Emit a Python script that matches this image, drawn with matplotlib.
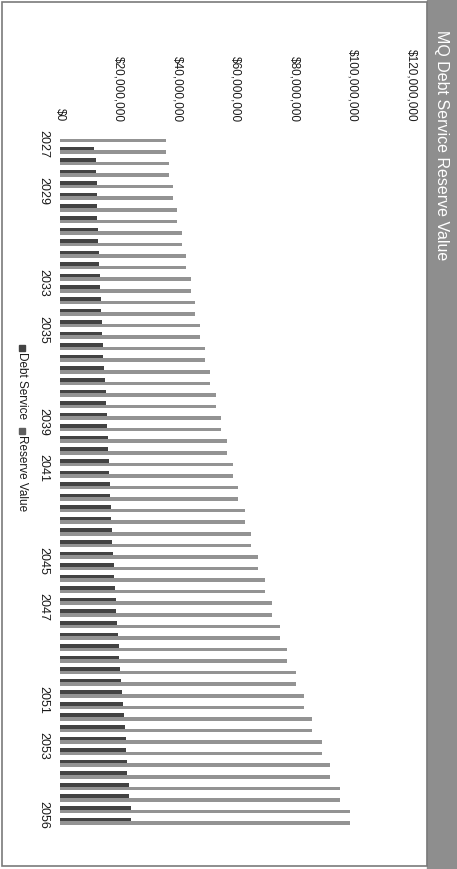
import matplotlib
matplotlib.use("Agg")
import matplotlib.pyplot as plt
from matplotlib.patches import Rectangle
import numpy as np

plt.rcParams['font.family'] = ['Liberation Sans', 'DejaVu Sans']

# ---- data -------------------------------------------------------------
title = "MQ Debt Service Reserve Value"
series_names = ["Debt Service", "Reserve Value"]

# two payment periods per year, 2027 through 2056
period_years = [2027 + i // 2 for i in range(60)]
label_years = [2027, 2029, 2033, 2035, 2039, 2041, 2045, 2047, 2051, 2053, 2056]
value_ticks = [0, 20e6, 40e6, 60e6, 80e6, 100e6, 120e6]

# $ millions per period
debt_service_m = [
    0.0, 11.6, 12.2, 12.2, 12.5, 12.6, 12.7, 12.7, 13.0, 13.1,
    13.3, 13.3, 13.7, 13.7, 13.9, 14.0, 14.3, 14.4, 14.8, 14.8,
    15.1, 15.4, 15.6, 15.6, 16.0, 16.0, 16.3, 16.3, 16.7, 16.7,
    17.0, 17.1, 17.3, 17.4, 17.8, 17.9, 18.1, 18.3, 18.6, 18.8,
    19.1, 19.3, 19.6, 19.8, 20.1, 20.3, 20.6, 20.8, 21.1, 21.4,
    21.9, 22.1, 22.6, 22.6, 23.0, 23.0, 23.6, 23.6, 24.2, 24.2,
]
reserve_value_m = [
    36.2, 36.2, 37.4, 37.4, 38.7, 38.7, 40.1, 40.1, 41.6, 41.6,
    43.1, 43.1, 44.7, 44.7, 46.3, 46.3, 47.9, 47.9, 49.5, 49.5,
    51.3, 51.3, 53.2, 53.2, 55.0, 55.0, 57.0, 57.0, 59.0, 59.0,
    61.0, 61.0, 63.2, 63.2, 65.3, 65.3, 67.8, 67.8, 70.1, 70.1,
    72.6, 72.6, 75.2, 75.2, 77.7, 77.7, 80.7, 80.7, 83.4, 83.4,
    86.3, 86.3, 89.5, 89.5, 92.3, 92.3, 95.7, 95.7, 99.1, 99.1,
]

# ---- styling ------------------------------------------------------------
DARK = "#434343"
LIGHT = "#939393"
BANNER = "#8e8e8e"
TEXT = "#1a1a1a"

W, H = 457, 869
fig = plt.figure(figsize=(W / 100, H / 100), dpi=100)
fig.patch.set_facecolor("white")

# plot area (pixel box converted to figure fractions)
left, right, top, bottom = 60, 411, 132.8, 827.0
ax = fig.add_axes([left / W, 1 - bottom / H, (right - left) / W, (bottom - top) / H])

n = len(period_years)
rows = np.arange(n)
bh = 0.31
debt = np.array(debt_service_m) * 1e6
reserve = np.array(reserve_value_m) * 1e6
ax.barh(rows - bh / 2, debt, height=bh, color=DARK, linewidth=0)
ax.barh(rows + bh / 2, reserve, height=bh, color=LIGHT, linewidth=0)

ax.set_ylim(n - 0.5, -0.5)
ax.set_xlim(value_ticks[0], value_ticks[-1])

# value axis on top, labels turned a quarter clockwise
ax.xaxis.tick_top()
ax.set_xticks(value_ticks)
ax.set_xticklabels([f"${v:,.0f}" for v in value_ticks], rotation=-90,
                   fontsize=8.5, color=TEXT)
ax.tick_params(axis="x", length=0, pad=8)

# year labels centred on each year's pair of periods
year_pos = [period_years.index(yr) + 0.5 for yr in label_years]
ax.set_yticks(year_pos)
ax.set_yticklabels([str(yr) for yr in label_years], rotation=-90,
                   fontsize=9, color=TEXT, va="center")
ax.tick_params(axis="y", length=0, pad=8)

for s in ax.spines.values():
    s.set_visible(False)

# legend, written top-to-bottom beside the year labels
lx = 22
legend_items = [(series_names[0], DARK, 345), (series_names[1], "#5f5f5f", 428)]
for name, col, ystart in legend_items:
    fig.patches.append(Rectangle(((lx - 3) / W, 1 - (ystart + 6) / H), 6 / W, 6 / H,
                                 transform=fig.transFigure, color=col, zorder=3))
    fig.text(lx / W, 1 - (ystart + 7) / H, name, rotation=-90, fontsize=8.5,
             color=TEXT, ha="center", va="top")

# title banner along the right edge
fig.patches.append(Rectangle((427 / W, 0), 30 / W, 1, transform=fig.transFigure,
                             color=BANNER, zorder=1))
fig.text(441 / W, 1 - 30 / H, title, rotation=-90, fontsize=11.5, color="white",
         ha="center", va="top")

# chart frame
fig.patches.append(Rectangle((2 / W, 3 / H), 425 / W, 864 / H, transform=fig.transFigure,
                             fill=False, edgecolor="#7a7a7a", linewidth=1.2, zorder=2))

fig.savefig("out.png", dpi=100)
